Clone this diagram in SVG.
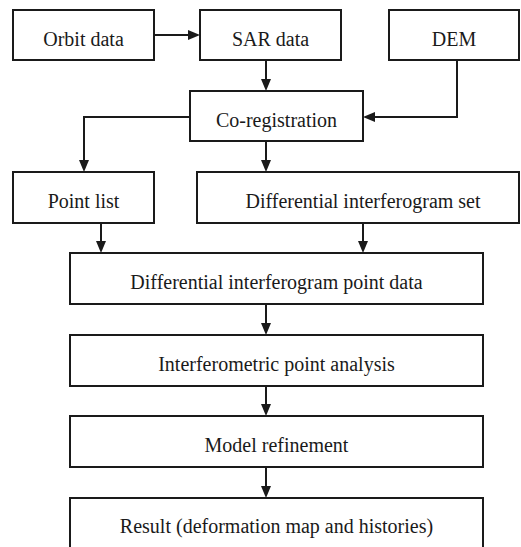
<svg xmlns="http://www.w3.org/2000/svg" width="521" height="547" viewBox="0 0 521 547">
<style>
.box{fill:#fff;stroke:#1a1a1a;stroke-width:2}
.lbl{font-family:"Liberation Serif","Times New Roman",serif;font-size:20px;fill:#1a1a1a;text-anchor:middle}
.con{fill:none;stroke:#1a1a1a;stroke-width:2}
</style>
<defs>
<marker id="ah" markerUnits="userSpaceOnUse" markerWidth="12" markerHeight="10" refX="2" refY="5" orient="auto" viewBox="0 0 12 10">
<path d="M0,0 L12,5 L0,10 Z" fill="#1a1a1a"/>
</marker>
</defs>
<rect width="521" height="547" fill="#fff"/>
<g id="orbit"><rect class="box" x="13" y="10" width="141" height="50"/><text class="lbl" x="83.5" y="45.5">Orbit data</text></g>
<g id="sar"><rect class="box" x="200" y="10" width="141" height="50"/><text class="lbl" x="270.5" y="45.5">SAR data</text></g>
<g id="dem"><rect class="box" x="389" y="10" width="130" height="50"/><text class="lbl" x="454" y="45.5">DEM</text></g>
<g id="coreg"><rect class="box" x="190" y="91" width="173" height="50"/><text class="lbl" x="276.5" y="126.5">Co-registration</text></g>
<g id="pointlist"><rect class="box" x="13" y="172" width="141" height="51"/><text class="lbl" x="83.5" y="208">Point list</text></g>
<g id="diffset"><rect class="box" x="197" y="172" width="322" height="51"/><text class="lbl" x="363" y="208">Differential interferogram set</text></g>
<g id="diffpoint"><rect class="box" x="70" y="253" width="413" height="51"/><text class="lbl" x="276.5" y="289">Differential interferogram point data</text></g>
<g id="analysis"><rect class="box" x="70" y="335" width="413" height="51"/><text class="lbl" x="276.5" y="371">Interferometric point analysis</text></g>
<g id="model"><rect class="box" x="70" y="416" width="413" height="51"/><text class="lbl" x="276.5" y="452">Model refinement</text></g>
<g id="result"><rect class="box" x="70" y="498" width="413" height="60"/><text class="lbl" x="276.5" y="533">Result (deformation map and histories)</text></g>
<g id="connectors">
<path class="con" d="M154,35 H190" marker-end="url(#ah)"/>
<path class="con" d="M266,60 V81" marker-end="url(#ah)"/>
<path class="con" d="M457,60 V117 H373" marker-end="url(#ah)"/>
<path class="con" d="M190,117 H84 V162" marker-end="url(#ah)"/>
<path class="con" d="M266,141 V162" marker-end="url(#ah)"/>
<path class="con" d="M101,223 V243" marker-end="url(#ah)"/>
<path class="con" d="M363,223 V243" marker-end="url(#ah)"/>
<path class="con" d="M266,304 V325" marker-end="url(#ah)"/>
<path class="con" d="M266,386 V406" marker-end="url(#ah)"/>
<path class="con" d="M266,467 V488" marker-end="url(#ah)"/>
</g>
</svg>
